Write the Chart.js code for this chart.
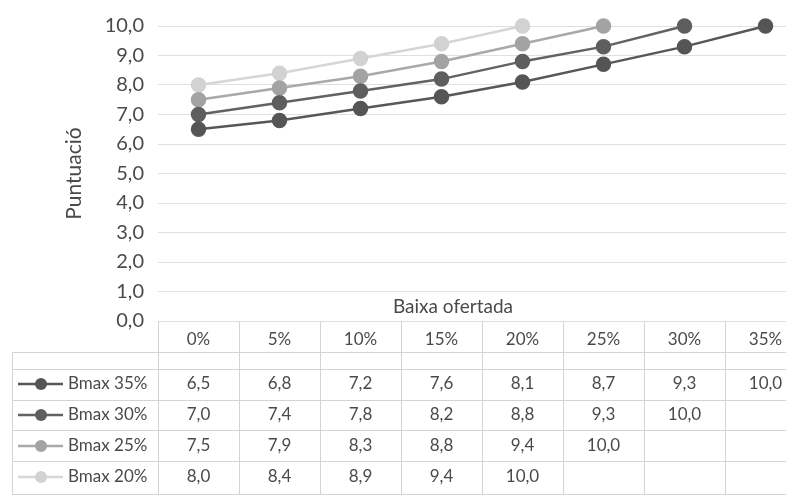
<!DOCTYPE html>
<html>
<head>
<meta charset="utf-8">
<script src="https://cdn.jsdelivr.net/npm/chart.js@4"></script>
<style>
  html, body { margin: 0; padding: 0; background: #fff; overflow: hidden; width: 786px; height: 495px; }
  canvas { display: block; }
</style>
</head>
<body>
<canvas id="chart" width="830" height="495"></canvas>
<script>
// Baixa ofertada (x categories)
const categories = ['0%', '5%', '10%', '15%', '20%', '25%', '30%', '35%'];

// Puntuació per Bmax
const bmax35 = [6.5, 6.8, 7.2, 7.6, 8.1, 8.7, 9.3, 10.0];
const bmax30 = [7.0, 7.4, 7.8, 8.2, 8.8, 9.3, 10.0, null];
const bmax25 = [7.5, 7.9, 8.3, 8.8, 9.4, 10.0, null, null];
const bmax20 = [8.0, 8.4, 8.9, 9.4, 10.0, null, null, null];

const seriesNames = ['Bmax 35%', 'Bmax 30%', 'Bmax 25%', 'Bmax 20%'];
const lineColors = ['#575757', '#626262', '#a9a9a9', '#d6d6d6'];
const pointColors = ['#555555', '#5e5e5e', '#a3a3a3', '#d2d2d2'];

const yMin = 0;
const yMax = 10;
const yStep = 1;

const fmt = v => v.toFixed(1).replace('.', ',');

const FONT = 'Lato, "Open Sans", sans-serif';
const TEXT = '#4a4a4a';
const LINE = '#d4d4d4';

// draws the data table under the plot + the x title
const dataTable = {
  id: 'dataTable',
  afterDraw(chart) {
    const ctx = chart.ctx;
    const area = chart.chartArea;
    const xs = chart.scales.x;
    const n = categories.length;
    const colW = (area.right - area.left) / n;
    const tableLeft = 12;
    const rowLines = [352, 369, 400, 430, 461, 494];
    const rowCenters = [384, 415, 446, 477];

    ctx.save();
    ctx.strokeStyle = LINE;
    ctx.lineWidth = 1;
    // vertical lines
    for (let i = 0; i <= n; i++) {
      const x = Math.round(area.left + i * colW) + 0.5;
      ctx.beginPath();
      ctx.moveTo(x, area.bottom);
      ctx.lineTo(x, 495);
      ctx.stroke();
    }
    ctx.beginPath();
    ctx.moveTo(tableLeft + 0.5, rowLines[0]);
    ctx.lineTo(tableLeft + 0.5, 495);
    ctx.stroke();
    // horizontal lines
    rowLines.forEach(y => {
      ctx.beginPath();
      ctx.moveTo(tableLeft, y + 0.5);
      ctx.lineTo(area.right, y + 0.5);
      ctx.stroke();
    });

    // legend keys + values
    const datasets = chart.data.datasets;
    ctx.textBaseline = 'middle';
    datasets.forEach((ds, r) => {
      const y = rowCenters[r];
      ctx.strokeStyle = ds.borderColor;
      ctx.lineWidth = 2.5;
      ctx.beginPath();
      ctx.moveTo(18, y);
      ctx.lineTo(63, y);
      ctx.stroke();
      ctx.fillStyle = ds.pointBackgroundColor;
      ctx.beginPath();
      ctx.arc(41, y, 6, 0, Math.PI * 2);
      ctx.fill();

      ctx.fillStyle = TEXT;
      ctx.font = '17px ' + FONT;
      ctx.textAlign = 'left';
      ctx.fillText(seriesNames[r], 68, y);

      ctx.textAlign = 'center';
      ds.data.forEach((v, i) => {
        if (v === null) return;
        ctx.fillText(fmt(v), xs.getPixelForValue(i), y);
      });
    });

    // x axis title
    ctx.fillStyle = TEXT;
    ctx.font = '19px ' + FONT;
    ctx.textAlign = 'center';
    ctx.fillText('Baixa ofertada', 453, 307);
    ctx.restore();
  }
};

new Chart(document.getElementById('chart').getContext('2d'), {
  type: 'line',
  data: {
    labels: categories,
    datasets: [bmax35, bmax30, bmax25, bmax20].map((d, i) => ({
      label: seriesNames[i],
      data: d,
      borderColor: lineColors[i],
      backgroundColor: pointColors[i],
      pointBackgroundColor: pointColors[i],
      pointBorderColor: pointColors[i],
      borderWidth: 2.5,
      pointRadius: 6.5,
      tension: 0,
      clip: false,
      spanGaps: false
    }))
  },
  plugins: [dataTable],
  options: {
    responsive: false,
    animation: false,
    layout: { padding: { top: 20, right: 24, left: 0, bottom: 0 } },
    plugins: {
      legend: { display: false },
      tooltip: { enabled: false }
    },
    scales: {
      x: {
        type: 'category',
        offset: true,
        grid: { display: false, drawTicks: false },
        border: { display: false },
        ticks: {
          color: TEXT,
          font: { family: FONT, size: 17 },
          padding: 8,
          maxRotation: 0
        },
        afterFit(scale) { scale.height = 174; }
      },
      y: {
        min: yMin,
        max: yMax,
        grid: { color: '#e0e0e0', drawTicks: false },
        border: { display: false },
        ticks: {
          stepSize: yStep,
          color: TEXT,
          font: { family: FONT, size: 20 },
          padding: 14,
          callback: v => fmt(v)
        },
        title: {
          display: true,
          text: 'Puntuació',
          color: TEXT,
          font: { family: FONT, size: 21 },
          padding: { top: 62, bottom: 0 }
        },
        afterFit(scale) { scale.width = 158; }
      }
    }
  }
});
</script>
</body>
</html>
